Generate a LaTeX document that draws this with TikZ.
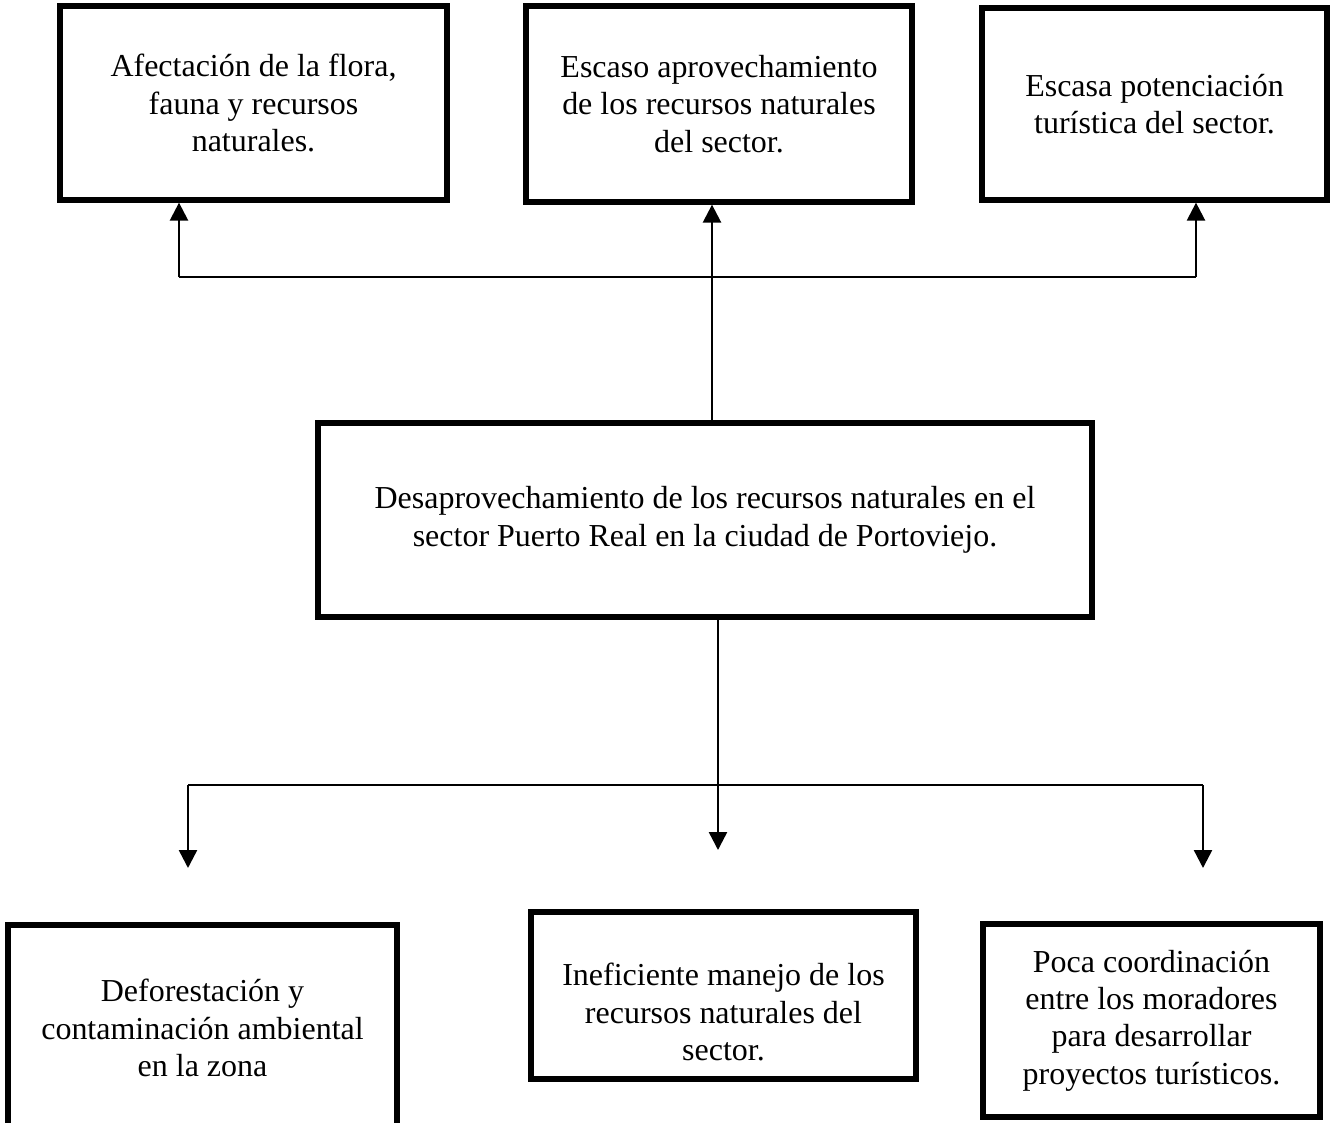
\documentclass[tikz,border=0pt]{standalone}
\usepackage{fontspec}
\setmainfont{Liberation Serif}
\usetikzlibrary{arrows.meta}

\begin{document}
\begin{tikzpicture}[font=\fontsize{18.2}{21.3}\selectfont]
	\tikzstyle{boxStyle} = [shape = rectangle, draw, line width = 3pt, align = center, inner sep = 0pt]
	\tikzstyle{textStyle} = [align = center, inner sep = 0pt]
	\tikzstyle{arrowStyle} = [line width = 1.4pt, -{Triangle[length = 0.36cm, width = 0.36cm]}]
	\tikzstyle{lineStyle} = [line width = 0.9pt]
	\useasboundingbox (0,0) rectangle (26.76,-22.46);
	% efectos
	\node[boxStyle, minimum width = 7.74cm, minimum height = 3.88cm] (ef1) at (5.07,-2.06) {Afectación de la flora,\\ fauna y recursos\\ naturales.};
	\node[boxStyle, minimum width = 7.72cm, minimum height = 3.92cm] (ef2) at (14.38,-2.08) {Escaso aprovechamiento\\ de los recursos naturales\\ del sector.};
	\node[boxStyle, minimum width = 6.90cm, minimum height = 3.84cm] (ef3) at (23.09,-2.08) {Escasa potenciación\\ turística del sector.};
	% problema
	\node[boxStyle, minimum width = 15.48cm, minimum height = 3.88cm] (pb) at (14.10,-10.40) {Desaprovechamiento de los recursos naturales en el\\ sector Puerto Real en la ciudad de Portoviejo.};
	% causas
	\node[boxStyle, minimum width = 7.78cm, minimum height = 4.12cm] (ca1) at (4.05,-20.56) {Deforestación y\\ contaminación ambiental\\ en la zona};
	\node[boxStyle, minimum width = 7.70cm, minimum height = 3.34cm] (ca2) at (14.47,-19.91) {};
	\node[textStyle] (ca2t) at (14.47,-20.24) {Ineficiente manejo de los\\ recursos naturales del\\ sector.};
	\node[boxStyle, minimum width = 6.74cm, minimum height = 3.86cm] (ca3) at (23.03,-20.41) {Poca coordinación\\ entre los moradores\\ para desarrollar\\ proyectos turísticos.};
	\coordinate (j1) at (3.58,-5.54);
	\coordinate (j2) at (14.24,-5.54);
	\coordinate (j3) at (23.92,-5.54);
	\coordinate (k1) at (3.76,-15.70);
	\coordinate (k2) at (14.36,-15.70);
	\coordinate (k3) at (24.06,-15.70);
	\coordinate (k1e) at (3.76,-17.36);
	\coordinate (k2e) at (14.36,-17.00);
	\coordinate (k3e) at (24.06,-17.36);
	\draw[lineStyle] (j1) -- (j3);
	\draw[arrowStyle] (j1) -- (j1 |- ef1.south);
	\draw[arrowStyle] (j3) -- (j3 |- ef3.south);
	\draw[arrowStyle] (j2 |- pb.north) -- (j2 |- ef2.south);
	\draw[lineStyle] (k1) -- (k3);
	\draw[arrowStyle] (k2 |- pb.south) -- (k2e);
	\draw[arrowStyle] (k1) -- (k1e);
	\draw[arrowStyle] (k3) -- (k3e);
\end{tikzpicture}
\end{document}
